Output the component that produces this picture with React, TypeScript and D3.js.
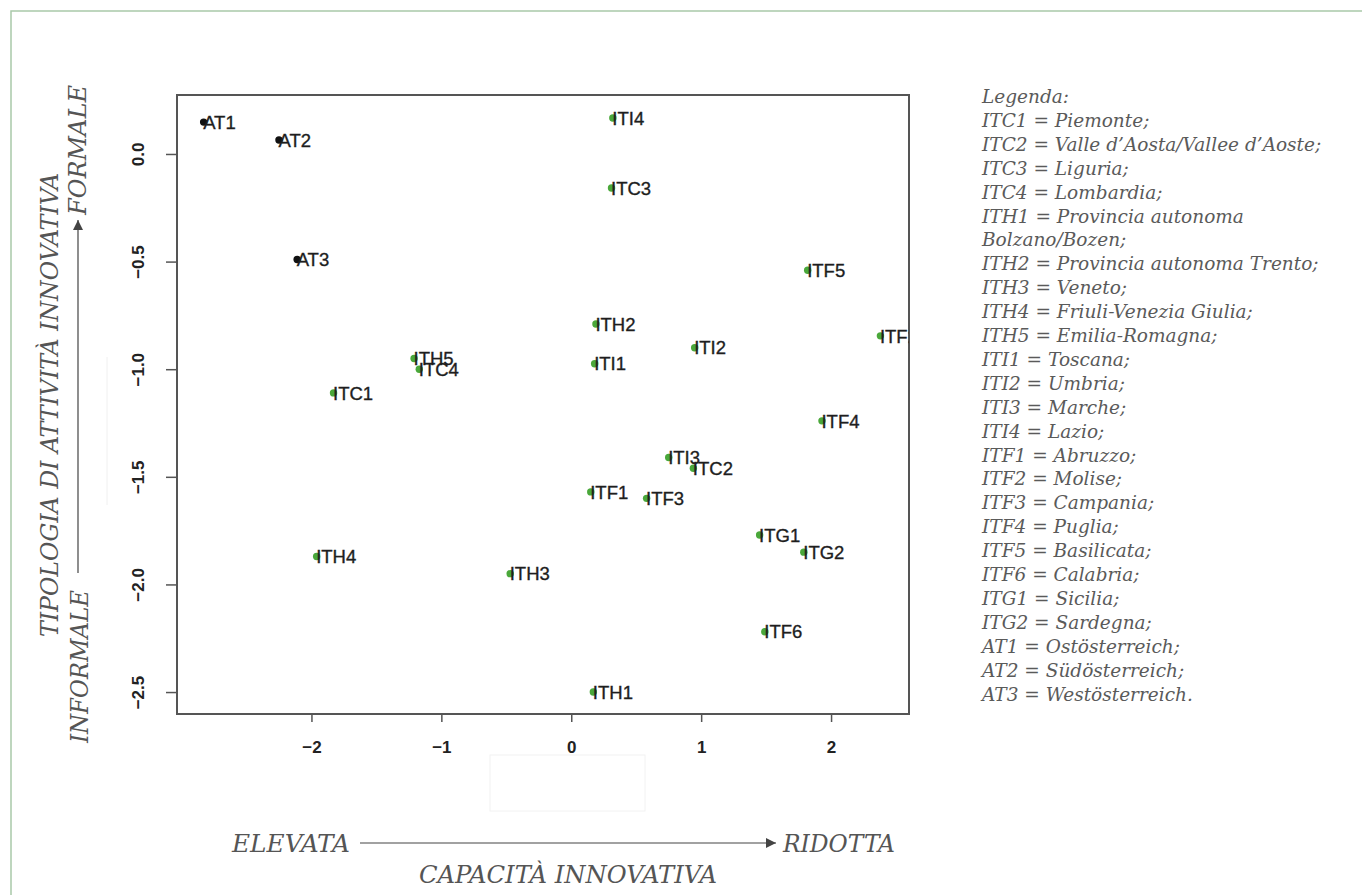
import React, { useRef, useEffect } from 'react';
import * as d3 from 'd3';

// region codes, coordinates
const labels = ['AT1', 'AT2', 'AT3', 'ITI4', 'ITC3', 'ITF5', 'ITH2', 'ITI2', 'ITF2', 'ITI1', 'ITH5', 'ITC4', 'ITC1', 'ITF4', 'ITI3', 'ITC2', 'ITF1', 'ITF3', 'ITG1', 'ITG2', 'ITH4', 'ITH3', 'ITF6', 'ITH1'];
const xs = [-2.83, -2.25, -2.11, 0.32, 0.31, 1.82, 0.19, 0.95, 2.38, 0.18, -1.21, -1.17, -1.83, 1.93, 0.75, 0.94, 0.15, 0.58, 1.45, 1.79, -1.96, -0.47, 1.49, 0.17];
const ys = [0.148, 0.065, -0.49, 0.167, -0.158, -0.54, -0.79, -0.9, -0.845, -0.975, -0.95, -1.0, -1.11, -1.24, -1.41, -1.46, -1.57, -1.6, -1.77, -1.85, -1.87, -1.95, -2.22, -2.5];

const xTicks = [-2, -1, 0, 1, 2];
const yTicks = [0, -0.5, -1, -1.5, -2, -2.5];

const legendLines = [
    'Legenda:',
    'ITC1 = Piemonte;',
    'ITC2 = Valle d\u2019Aosta/Vallee d\u2019Aoste;',
    'ITC3 = Liguria;',
    'ITC4 = Lombardia;',
    'ITH1 = Provincia autonoma',
    'Bolzano/Bozen;',
    'ITH2 = Provincia autonoma Trento;',
    'ITH3 = Veneto;',
    'ITH4 = Friuli-Venezia Giulia;',
    'ITH5 = Emilia-Romagna;',
    'ITI1 = Toscana;',
    'ITI2 = Umbria;',
    'ITI3 = Marche;',
    'ITI4 = Lazio;',
    'ITF1 = Abruzzo;',
    'ITF2 = Molise;',
    'ITF3 = Campania;',
    'ITF4 = Puglia;',
    'ITF5 = Basilicata;',
    'ITF6 = Calabria;',
    'ITG1 = Sicilia;',
    'ITG2 = Sardegna;',
    'AT1 = Ostösterreich;',
    'AT2 = Südösterreich;',
    'AT3 = Westösterreich.',
];

const W = 1362;
const H = 895;
const box = { left: 177, top: 95, right: 909, bottom: 714 };
const titleFont = '"DejaVu Serif Condensed", "DejaVu Serif", serif';
const legendFont = '"DejaVu Serif", serif';
const sans = 'Arial, "Liberation Sans", sans-serif';

const App = () => {
    const svgRef = useRef<SVGSVGElement | null>(null);

    useEffect(() => {
        if (!svgRef.current) return;
        const svg = d3.select(svgRef.current);
        svg.selectAll('*').remove();

        const x = d3.scaleLinear().domain([-3.035, 2.6]).range([box.left, box.right]);
        const y = d3.scaleLinear().domain([0.274, -2.602]).range([box.top, box.bottom]);

        // outer frame (top and left only)
        svg.append('path')
            .attr('d', `M11,${H} L11,11 L${W},11`)
            .attr('fill', 'none')
            .attr('stroke', '#a9c9a9')
            .attr('stroke-width', 1.5);

        // faint leftovers of the pasted image
        svg.append('rect')
            .attr('x', 490).attr('y', 755).attr('width', 155).attr('height', 56)
            .attr('fill', 'none').attr('stroke', '#f2f2f2');
        svg.append('line')
            .attr('x1', 107).attr('x2', 107).attr('y1', 357).attr('y2', 505)
            .attr('stroke', '#f0f0f0');

        const defs = svg.append('defs');
        defs.append('clipPath').attr('id', 'plotclip')
            .append('rect')
            .attr('x', box.left).attr('y', box.top)
            .attr('width', box.right - box.left).attr('height', box.bottom - box.top);

        // axes
        const xAxis = d3.axisBottom(x).tickValues(xTicks).tickSize(8).tickPadding(25)
            .tickFormat(d => (d as number) < 0 ? `\u2212${Math.abs(d as number)}` : `${d}`);
        const gx = svg.append('g').attr('transform', `translate(0,${box.bottom})`).call(xAxis);
        gx.select('.domain').remove();
        gx.selectAll('line').attr('stroke', '#555').attr('stroke-width', 1.5);
        gx.selectAll('text')
            .attr('font-family', sans)
            .attr('font-size', 17).attr('font-weight', 'bold').attr('fill', '#222')
            .attr('dy', '0.35em');

        const yAxis = d3.axisLeft(y).tickValues(yTicks).tickSize(11)
            .tickFormat(d => {
                const v = d as number;
                const s = Math.abs(v).toFixed(1);
                return v < 0 ? `\u2212${s}` : s;
            });
        const gy = svg.append('g').attr('transform', `translate(${box.left},0)`).call(yAxis);
        gy.select('.domain').remove();
        gy.selectAll('line').attr('stroke', '#555').attr('stroke-width', 1.5);
        gy.selectAll('.tick text').each(function () {
            d3.select(this)
                .attr('font-family', sans)
                .attr('font-size', 17).attr('font-weight', 'bold').attr('fill', '#222')
                .attr('text-anchor', 'middle')
                .attr('transform', 'rotate(-90)')
                .attr('x', 0).attr('y', -38.5).attr('dy', '0.35em');
        });

        // plot box
        svg.append('rect')
            .attr('x', box.left).attr('y', box.top)
            .attr('width', box.right - box.left).attr('height', box.bottom - box.top)
            .attr('fill', 'none').attr('stroke', '#555').attr('stroke-width', 2);

        // points and labels
        const pts = labels.map((l, i) => ({ label: l, x: xs[i], y: ys[i] }));
        const g = svg.append('g').attr('clip-path', 'url(#plotclip)');
        g.selectAll('circle').data(pts).enter().append('circle')
            .attr('cx', d => x(d.x)).attr('cy', d => y(d.y)).attr('r', 3.7)
            .attr('fill', d => d.label.startsWith('AT') ? '#111' : '#4aa83a');
        g.selectAll('text').data(pts).enter().append('text')
            .attr('x', d => x(d.x) - 0.5).attr('y', d => y(d.y))
            .attr('dy', '0.36em')
            .attr('font-family', sans)
            .attr('font-size', 18.5).attr('fill', '#1e1e1e')
            .attr('stroke', '#1e1e1e').attr('stroke-width', 0.35)
            .text(d => d.label);

        // legend
        const leg = svg.append('text')
            .attr('font-family', legendFont).attr('font-style', 'italic')
            .attr('font-size', 18.5).attr('fill', '#5a5a5a');
        leg.selectAll('tspan').data(legendLines).enter().append('tspan')
            .attr('x', 982).attr('y', (_, i) => 103 + i * 23.9)
            .text(d => d);

        const arrowDef = defs.append('marker')
            .attr('id', 'arr').attr('viewBox', '0 0 10 10').attr('refX', 10).attr('refY', 5)
            .attr('markerWidth', 10).attr('markerHeight', 10).attr('markerUnits', 'userSpaceOnUse')
            .attr('orient', 'auto');
        arrowDef.append('path').attr('d', 'M0,0 L10,5 L0,10 Z').attr('fill', '#444');

        const title = (txt: string, len: number, transform: string) => svg.append('text')
            .attr('transform', transform)
            .attr('font-family', titleFont).attr('font-style', 'italic')
            .attr('font-size', 24).attr('fill', '#555')
            .attr('textLength', len).attr('lengthAdjust', 'spacingAndGlyphs')
            .text(txt);

        // bottom titles
        title('ELEVATA', 118, 'translate(232,852)');
        svg.append('line').attr('x1', 360).attr('x2', 776).attr('y1', 843).attr('y2', 843)
            .attr('stroke', '#444').attr('stroke-width', 1.2).attr('marker-end', 'url(#arr)');
        title('RIDOTTA', 112, 'translate(783,852)');
        title('CAPACITÀ INNOVATIVA', 298, 'translate(419,883)');

        // left titles
        title('TIPOLOGIA DI ATTIVITÀ INNOVATIVA', 464, 'translate(58,637) rotate(-90)');
        title('INFORMALE', 153, 'translate(88,743) rotate(-90)');
        svg.append('line').attr('x1', 78).attr('x2', 78).attr('y1', 573).attr('y2', 220)
            .attr('stroke', '#444').attr('stroke-width', 1.2).attr('marker-end', 'url(#arr)');
        title('FORMALE', 130, 'translate(86,215) rotate(-90)');
    }, []);

    return (
        <svg ref={svgRef} width={W} height={H}
            style={{ position: 'absolute', left: 0, top: 0, background: '#fff' }} />
    );
};

export default App;
